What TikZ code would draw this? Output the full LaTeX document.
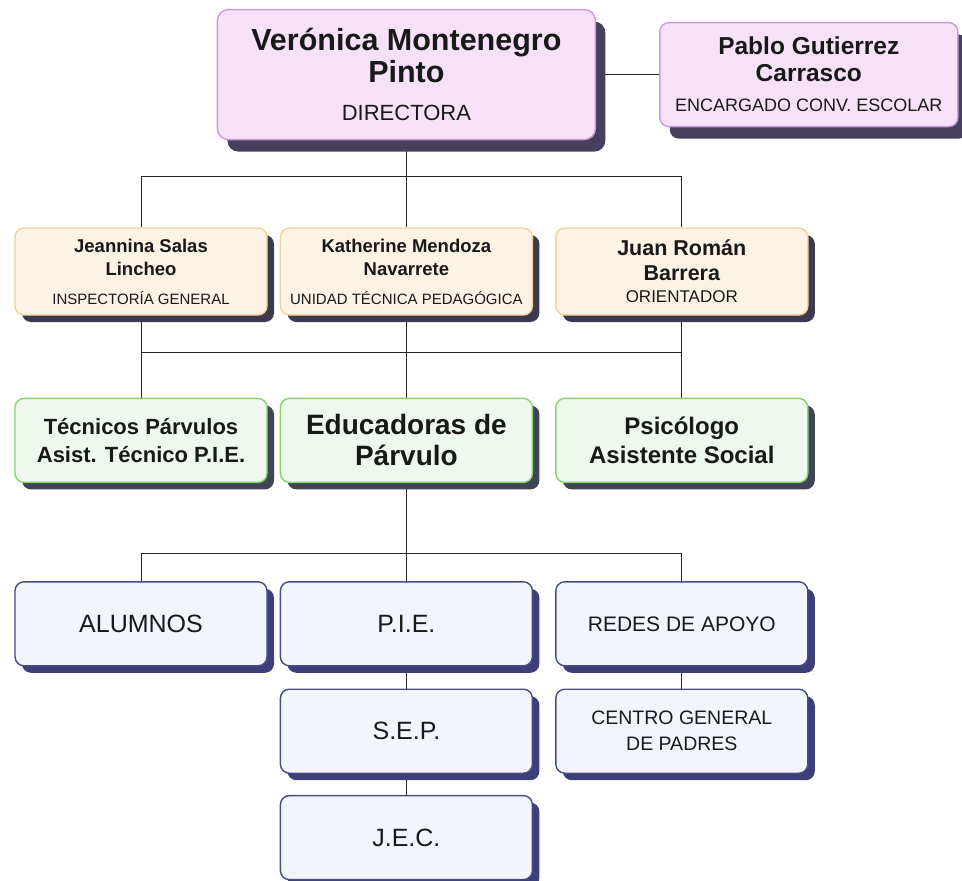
\documentclass[tikz,border=0pt]{standalone}
\usepackage{fontspec}
\setmainfont{Liberation Sans}
\usepackage{xcolor}
\usepackage{tikz}
\usetikzlibrary{positioning, calc, shadows, backgrounds}

\definecolor{pinkfill}{HTML}{F7E1F8}
\definecolor{pinkline}{HTML}{C89BD8}
\definecolor{pinkshade}{HTML}{463F5E}
\definecolor{creamfill}{HTML}{FDF3E4}
\definecolor{creamline}{HTML}{EFD29C}
\definecolor{creamshade}{HTML}{3D3A50}
\definecolor{greenfill}{HTML}{EFF8EE}
\definecolor{greenline}{HTML}{86D46C}
\definecolor{greenshade}{HTML}{3E4556}
\definecolor{bluefill}{HTML}{F3F5FD}
\definecolor{blueline}{HTML}{474C86}
\definecolor{blueshade}{HTML}{3D4078}

\begin{document}
\begin{tikzpicture}[x=1pt, y=-1pt,
    box/.style={rectangle, rounded corners=9pt, line width=1.4pt, align=center, inner sep=2pt, minimum width=252pt, minimum height=84pt, text=black!90},
    pinkbox/.style={box, draw=pinkline, fill=pinkfill, drop shadow={shadow xshift=10pt, shadow yshift=-12pt, opacity=1, fill=pinkshade}},
    creambox/.style={box, minimum height=87pt, draw=creamline, fill=creamfill, drop shadow={shadow xshift=7pt, shadow yshift=-7pt, opacity=1, fill=creamshade}},
    greenbox/.style={box, draw=greenline, fill=greenfill, drop shadow={shadow xshift=7pt, shadow yshift=-7pt, opacity=1, fill=greenshade}},
    bluebox/.style={box, draw=blueline, fill=bluefill, drop shadow={shadow xshift=7pt, shadow yshift=-7pt, opacity=1, fill=blueshade}},
    link/.style={draw=black!85, line width=0.9pt}
]
\useasboundingbox (0,0) rectangle (962,881);

% second row
\node[creambox, font=\fontsize{18.5}{23}\selectfont\bfseries](insp) at (141,271.5){Jeannina Salas\\ Lincheo\\[6pt] \fontsize{15}{23}\selectfont\mdseries INSPECTORÍA GENERAL};
\node[creambox, font=\fontsize{18.5}{23}\selectfont\bfseries](utp)[right = 12pt of insp]{Katherine Mendoza\\ Navarrete\\[6pt] \fontsize{15}{23}\selectfont\mdseries UNIDAD TÉCNICA PEDAGÓGICA};
\node[creambox, font=\fontsize{21.5}{25}\selectfont\bfseries](orient)[right = 22pt of utp]{Juan Román\\ Barrera\\[-3pt] \fontsize{17}{25}\selectfont\mdseries ORIENTADOR};

% top
\node[pinkbox, minimum width=378pt, minimum height=130pt, rounded corners=11pt, font=\fontsize{30.5}{32}\selectfont\bfseries](dir)[above = 87pt of utp]{Verónica Montenegro\\ Pinto\\[6pt] \fontsize{22}{32}\selectfont\mdseries DIRECTORA};
\node[pinkbox, minimum width=298pt, minimum height=104pt, font=\fontsize{24.5}{27}\selectfont\bfseries](conv)[right = 63pt of dir]{Pablo Gutierrez\\ Carrasco\\[3pt] \fontsize{18}{27}\selectfont\mdseries ENCARGADO CONV. ESCOLAR};

% third row
\node[greenbox, font=\fontsize{22}{28}\selectfont\bfseries](tec)[below = 82pt of insp]{Técnicos Párvulos\\ Asist. Técnico P.I.E.};
\node[greenbox, font=\fontsize{28}{31}\selectfont\bfseries](edu)[below = 82pt of utp]{Educadoras de\\ Párvulo};
\node[greenbox, font=\fontsize{24}{29}\selectfont\bfseries](psi)[below = 82pt of orient]{Psicólogo\\ Asistente Social};

% bottom
\node[bluebox, font=\fontsize{25}{26}\selectfont](alum)[below = 98pt of tec]{ALUMNOS};
\node[bluebox, font=\fontsize{25}{26}\selectfont](pie)[below = 98pt of edu]{P.I.E.};
\node[bluebox, font=\fontsize{21}{26}\selectfont](redes)[below = 98pt of psi]{REDES DE APOYO};
\node[bluebox, font=\fontsize{25}{26}\selectfont](sep)[below = 22pt of pie]{S.E.P.};
\node[bluebox, font=\fontsize{25}{26}\selectfont](jec)[below = 21pt of sep]{J.E.C.};
\node[bluebox, font=\fontsize{19.5}{26}\selectfont](centro)[below = 22pt of redes]{CENTRO GENERAL\\ DE PADRES};

\begin{scope}[on background layer]
\coordinate (busA) at ($(dir.south)!0.41!(utp.north)$);
\coordinate (busB) at ($(utp.south)!0.45!(edu.north)$);
\coordinate (busC) at ($(edu.south)!0.72!(pie.north)$);
\draw[link] (dir) -- (conv);
\draw[link] (dir) -- (utp);
\draw[link] (insp.north) |- (busA) -| (orient.north);
\draw[link] (insp) -- (tec);
\draw[link] (utp) -- (edu);
\draw[link] (orient) -- (psi);
\draw[link] (insp |- busB) -- (orient |- busB);
\draw[link] (edu) -- (pie);
\draw[link] (alum.north) |- (busC) -| (redes.north);
\draw[link] (pie) -- (sep);
\draw[link] (sep) -- (jec);
\draw[link] (redes) -- (centro);
\end{scope}
\end{tikzpicture}
\end{document}
